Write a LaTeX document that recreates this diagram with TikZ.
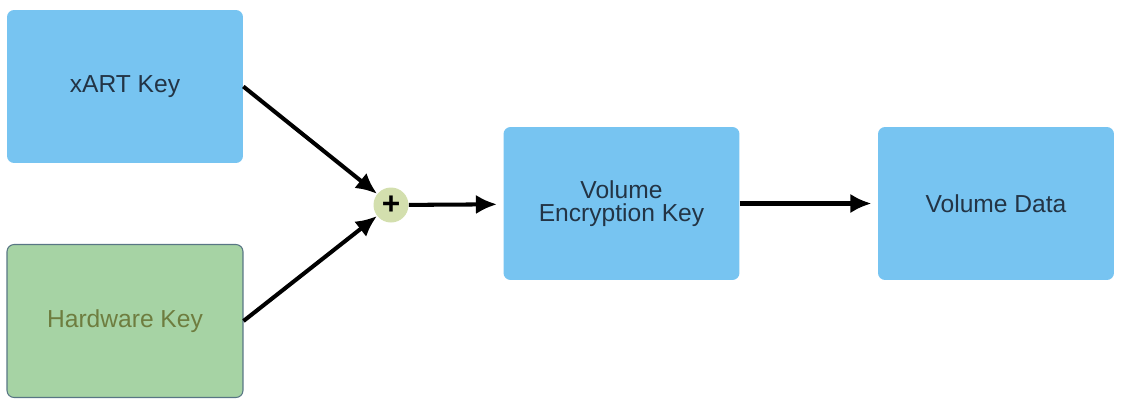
\documentclass[tikz,border=0pt]{standalone}
\usepackage{fontspec}
\setmainfont{Liberation Sans}
\usetikzlibrary{arrows.meta}
\tikzset{>={Latex[length=12pt,width=11pt]}}
\definecolor{keyblue}{RGB}{119,196,241}
\definecolor{keygreen}{RGB}{166,211,164}
\definecolor{keyedge}{RGB}{88,118,132}
\definecolor{keytext}{RGB}{35,52,69}
\definecolor{hwtext}{RGB}{110,125,63}
\definecolor{plusfill}{RGB}{211,223,174}
\tikzset{
  keybox/.style={rounded corners=4pt, minimum width=4.72cm, minimum height=3.06cm, inner sep=0pt,
    align=center, text=keytext, font=\fontsize{14}{13}\selectfont},
  link/.style={->, line width=2.3pt}
}

\begin{document}
\begin{tikzpicture}[x=0.02cm, y=-0.02cm]
            \useasboundingbox (0,0) rectangle (1123,407);
            \node[keybox, fill=keyblue] (xart) at (125,86.5) {xART Key};
            \node[keybox, fill=keygreen, draw=keyedge, line width=0.6pt, text=hwtext] (hw) at (125,321) {Hardware Key};
            \node[circle, fill=plusfill, minimum size=0.7cm, inner sep=0pt, font=\fontsize{18}{18}\selectfont\bfseries] (plus) at (391,205) {+};
            \node[keybox, fill=keyblue] (vek) at (621.5,203.5) {Volume\\Encryption Key};
            \node[keybox, fill=keyblue] (vd) at (996,203.5) {Volume Data};
            \draw[link] (xart.east) -- (plus);
            \draw[link] (hw.east) -- (plus);
            \draw[link, shorten >=3.5pt] (plus) -- (vek);
            \draw[link, shorten >=3.5pt] (vek) -- (vd);
        \end{tikzpicture}
\end{document}
